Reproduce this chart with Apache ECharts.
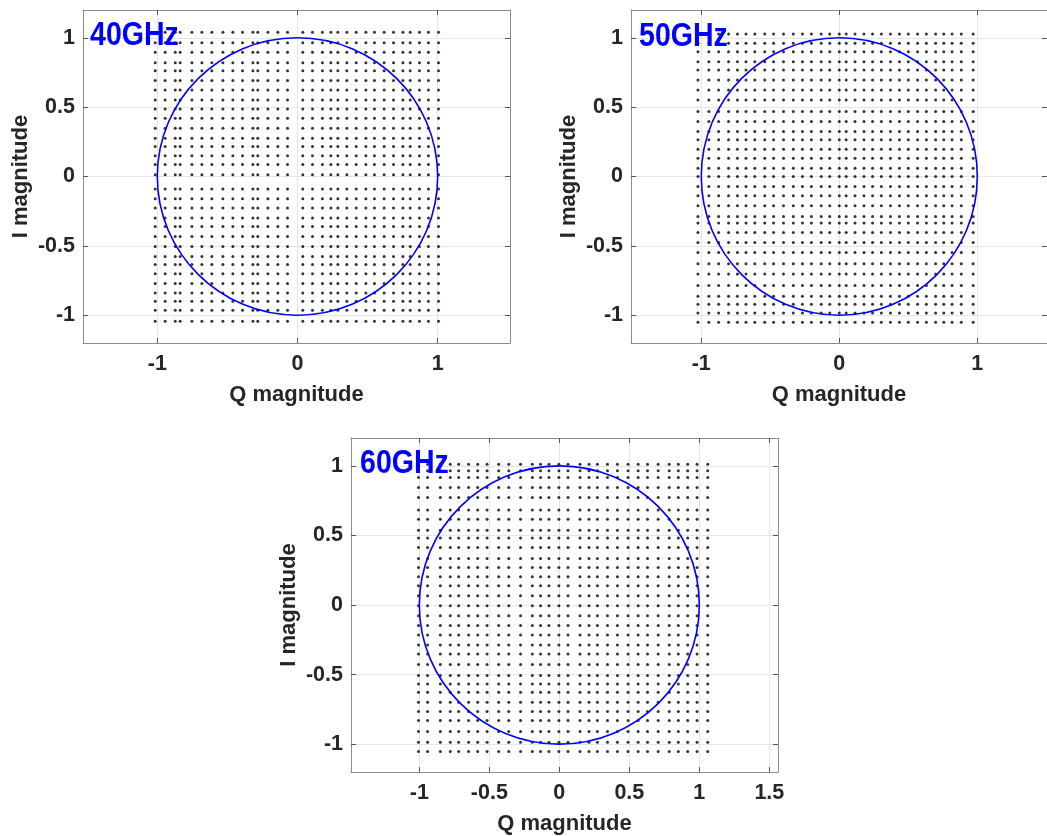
<!DOCTYPE html>
<html lang="en">
<head>
    <meta charset="UTF-8">
    <title>I/Q constellation 40/50/60GHz</title>
    <script src="https://cdn.jsdelivr.net/npm/echarts@6/dist/echarts.min.js"></script>
    <style>
        html, body { margin: 0; padding: 0; background: #fff; }
    </style>
</head>
<body>
    <div id="main" style="width: 1047px;height: 836px"></div>

    <script type="text/javascript">
        // grid columns (Q) and rows (I), one pair per panel
        var q40 = [-1.015, -0.944, -0.872, -0.837, -0.753, -0.682, -0.611, -0.532, -0.461, -0.392, -0.318, -0.283,
            -0.211, -0.140, -0.071, 0.038, 0.107, 0.178, 0.238, 0.288, 0.352, 0.419, 0.488, 0.549, 0.618, 0.685,
            0.752, 0.804, 0.870, 0.934, 1.006];
        var i40 = [1.039, 0.964, 0.895, 0.820, 0.763, 0.691, 0.624, 0.552, 0.487, 0.420, 0.348, 0.276, 0.216,
            0.149, 0.086, 0.012, -0.090, -0.160, -0.227, -0.299, -0.360, -0.432, -0.504, -0.576, -0.635, -0.700,
            -0.772, -0.839, -0.899, -0.964, -1.043];

        var q50 = [-1.024, -0.945, -0.874, -0.802, -0.738, -0.676, -0.612, -0.540, -0.476, -0.404, -0.333, -0.267,
            -0.202, -0.131, -0.069, 0.000, 0.050, 0.114, 0.179, 0.241, 0.305, 0.371, 0.436, 0.500, 0.567, 0.631,
            0.698, 0.757, 0.817, 0.884, 0.970];
        var i50 = [1.027, 0.960, 0.899, 0.827, 0.767, 0.695, 0.624, 0.552, 0.468, 0.396, 0.324, 0.264, 0.197,
            0.132, 0.060, 0.000, -0.072, -0.139, -0.211, -0.288, -0.336, -0.403, -0.475, -0.547, -0.628, -0.702,
            -0.786, -0.863, -0.920, -0.983, -1.050];

        var q60 = [-1.006, -0.941, -0.850, -0.779, -0.719, -0.648, -0.583, -0.516, -0.433, -0.361, -0.277, -0.193,
            -0.134, -0.074, -0.003, 0.062, 0.148, 0.212, 0.272, 0.344, 0.415, 0.491, 0.563, 0.630, 0.706, 0.785,
            0.850, 0.917, 0.984, 1.060];
        var i60 = [1.012, 0.965, 0.916, 0.844, 0.772, 0.682, 0.617, 0.538, 0.481, 0.414, 0.335, 0.270, 0.203,
            0.139, 0.067, -0.005, -0.077, -0.148, -0.215, -0.287, -0.352, -0.428, -0.507, -0.567, -0.627, -0.699,
            -0.766, -0.830, -0.909, -0.986, -1.053];

        var panelNames = ['40GHz', '50GHz', '60GHz'];
        var qTicks = [[-1, 0, 1], [-1, 0, 1], [-1, -0.5, 0, 0.5, 1, 1.5]];
        var iTicks = [-1, -0.5, 0, 0.5, 1];
        // reference circle: centre Q, centre I, radius
        var unitCircle = [[0, 0, 1]];

        var cols = [q40, q50, q60];
        var rows = [i40, i50, i60];

        var myChart = echarts.init(document.getElementById('main'));

        var boxes = [
            {left: 83, top: 10, width: 427, height: 333, qMin: -1.53, qMax: 1.516},
            {left: 631, top: 10, width: 422, height: 333, qMin: -1.509, qMax: 1.505},
            {left: 351, top: 438, width: 427, height: 334, qMin: -1.488, qMax: 1.562}
        ];
        var titlePos = [[90, 36], [639, 37], [360, 464]];

        var axisColor = '#8c8c8c';
        var labelStyle = {fontFamily: 'Liberation Sans', fontWeight: 'bold', fontSize: 21.5, color: '#262626'};
        var nameStyle = {fontFamily: 'Liberation Sans', fontWeight: 'bold', fontSize: 22, color: '#262626'};

        var grids = [], xAxes = [], yAxes = [], series = [], graphics = [];

        boxes.forEach(function (b, k) {
            grids.push({left: b.left, top: b.top, width: b.width, height: b.height, containLabel: false});

            var xBase = {
                gridIndex: k, type: 'value', min: b.qMin, max: b.qMax,
                axisLine: {show: true, onZero: false, lineStyle: {color: axisColor, width: 1}},
                axisTick: {show: true, inside: true, length: 5, customValues: qTicks[k], lineStyle: {color: '#555'}}
            };
            xAxes.push(Object.assign({}, xBase, {
                position: 'bottom',
                axisLabel: Object.assign({show: true, margin: 10, customValues: qTicks[k]}, labelStyle),
                splitLine: {show: true, lineStyle: {color: '#e6e6e6', width: 1}},
                name: 'Q magnitude', nameLocation: 'middle', nameGap: 41, nameTextStyle: nameStyle
            }));
            xAxes.push(Object.assign({}, xBase, {
                position: 'top', axisLabel: {show: false}, splitLine: {show: false}
            }));

            var yBase = {
                gridIndex: k, type: 'value', min: -1.2, max: 1.2,
                axisLine: {show: true, onZero: false, lineStyle: {color: axisColor, width: 1}},
                axisTick: {show: true, inside: true, length: 5, customValues: iTicks, lineStyle: {color: '#555'}}
            };
            yAxes.push(Object.assign({}, yBase, {
                position: 'left',
                axisLabel: Object.assign({show: true, margin: 8, customValues: iTicks}, labelStyle),
                splitLine: {show: true, lineStyle: {color: '#e6e6e6', width: 1}},
                name: 'I magnitude', nameLocation: 'middle', nameGap: 51, nameTextStyle: nameStyle
            }));
            yAxes.push(Object.assign({}, yBase, {
                position: 'right', axisLabel: {show: false}, splitLine: {show: false}
            }));

            // constellation points: every column crossed with every row
            var pts = [];
            rows[k].forEach(function (iv) {
                cols[k].forEach(function (qv) {
                    pts.push([qv, iv]);
                });
            });
            series.push({
                type: 'scatter', xAxisIndex: 2 * k, yAxisIndex: 2 * k,
                data: pts, symbol: 'circle', symbolSize: 3,
                itemStyle: {color: '#000'}, silent: true, z: 2
            });

            series.push({
                type: 'custom', xAxisIndex: 2 * k, yAxisIndex: 2 * k,
                data: unitCircle, silent: true, z: 3,
                renderItem: function (params, api) {
                    var c = api.coord([api.value(0), api.value(1)]);
                    var ex = api.coord([api.value(0) + api.value(2), api.value(1)]);
                    var ey = api.coord([api.value(0), api.value(1) + api.value(2)]);
                    return {
                        type: 'ellipse',
                        shape: {cx: c[0], cy: c[1], rx: ex[0] - c[0], ry: c[1] - ey[1]},
                        style: {stroke: '#0000ff', fill: 'none', lineWidth: 1.6}
                    };
                }
            });

            graphics.push({
                type: 'text', x: titlePos[k][0], y: titlePos[k][1], scaleX: 0.84, z: 10,
                style: {
                    text: panelNames[k], fill: '#0000ff',
                    font: 'bold 34px "Liberation Sans"',
                    align: 'left', verticalAlign: 'middle'
                }
            });
        });

        myChart.setOption({
            animation: false,
            backgroundColor: '#fff',
            grid: grids,
            xAxis: xAxes,
            yAxis: yAxes,
            series: series,
            graphic: graphics
        });
    </script>
</body>
</html>
